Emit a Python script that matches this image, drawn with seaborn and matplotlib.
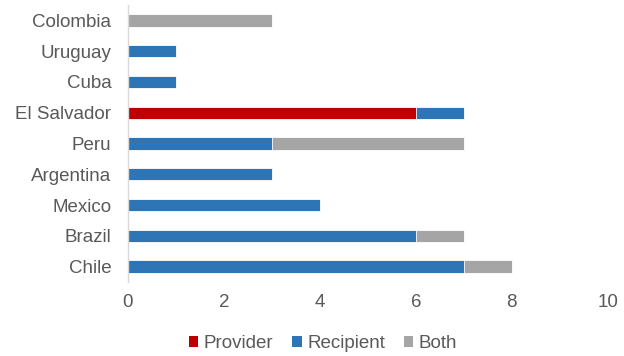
import matplotlib
matplotlib.use("Agg")
import matplotlib.pyplot as plt
from matplotlib.patches import Patch
import seaborn as sns
import pandas as pd

countries = ["Colombia", "Uruguay", "Cuba", "El Salvador", "Peru",
             "Argentina", "Mexico", "Brazil", "Chile"]
provider = [0, 0, 0, 6, 0, 0, 0, 0, 0]
recipient = [0, 1, 1, 1, 3, 3, 4, 6, 7]
both = [3, 0, 0, 0, 4, 0, 0, 1, 1]

series_names = ["Provider", "Recipient", "Both"]
series_colors = ["#C00000", "#2E75B6", "#A5A5A5"]

df = pd.DataFrame({"country": countries, "Provider": provider,
                   "Recipient": recipient, "Both": both})
df["cum_provider"] = df["Provider"]
df["cum_recipient"] = df["cum_provider"] + df["Recipient"]
df["cum_both"] = df["cum_recipient"] + df["Both"]

sns.set_theme(style="white")
plt.rcParams["font.family"] = ["Liberation Sans", "DejaVu Sans"]
text_color = "#595959"
fs = 13.5

fig = plt.figure(figsize=(6.24, 3.56), dpi=100)
ax = fig.add_axes([0.205, 0.208, 0.769, 0.778])

# Stacked bars: draw cumulative totals from the outermost segment inward
for col, color in zip(["cum_both", "cum_recipient", "cum_provider"],
                      [series_colors[2], series_colors[1], series_colors[0]]):
    sns.barplot(data=df, x=col, y="country", order=countries, color=color,
                width=0.4, orient="h", edgecolor="white", linewidth=0.6,
                saturation=1, ax=ax)

ax.set_xlim(0, 10)
ax.set_ylim(8.5, -0.5)
ax.set_xticks(range(0, 11, 2))
ax.set_xlabel("")
ax.set_ylabel("")
ax.tick_params(axis="both", length=0, labelsize=fs, colors=text_color)
ax.tick_params(axis="x", pad=9)
ax.tick_params(axis="y", pad=12)

for side in ["top", "right", "bottom"]:
    ax.spines[side].set_visible(False)
ax.spines["left"].set_color("#D9D9D9")
ax.spines["left"].set_linewidth(1.0)
ax.spines["left"].set_zorder(5)

handles = [Patch(facecolor=c, edgecolor="none", label=n)
           for n, c in zip(series_names, series_colors)]
fig.legend(handles=handles, loc="center", bbox_to_anchor=(0.518, 0.035),
           ncol=3, frameon=False, fontsize=fs, labelcolor=text_color,
           handlelength=0.5, handleheight=0.5, handletextpad=0.3,
           columnspacing=1.0)

fig.savefig("out.png", dpi=100)
